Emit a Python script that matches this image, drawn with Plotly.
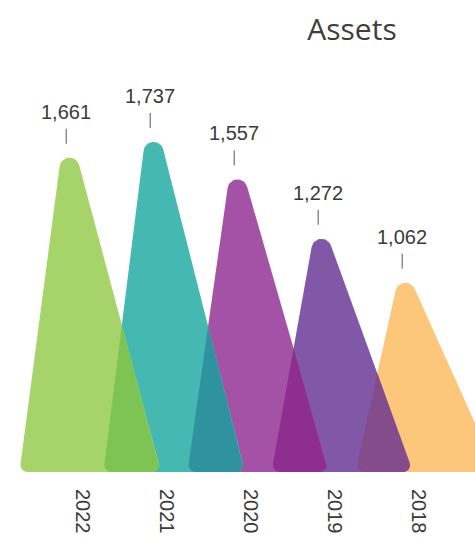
import numpy as np
import plotly.graph_objects as go

# ---- data ----
years = ["2022", "2021", "2020", "2019", "2018"]
assets = [1661, 1737, 1557, 1272, 1062]

# ---- style ----
fill_colors = ["#a6d36a", "#45b9b1", "#a452a5", "#8157a8", "#fcc77b"]
overlap_colors = ["#7ec455", "#2f939f", "#8e2f8f", "#844c8b", None]
TEXT_COLOR = "#3a3a3a"

W, H = 475, 540
M_BOTTOM = 68
PLOT_W, PLOT_H = W, H - M_BOTTOM
X_RANGE = [-0.988, 4.667]
Y_RANGE = [189.0, 2143.0]

# peak geometry, in category units relative to each year's slot
APEX_OFF = -0.2
BASE_L = -0.756
BASE_R = 0.93
R_TOP = 10.0    # px radius of rounded apex
R_BASE = 7.0    # px radius of rounded base corners


def to_px(x, y):
    px = (x - X_RANGE[0]) / (X_RANGE[1] - X_RANGE[0]) * PLOT_W
    py = PLOT_H - (y - Y_RANGE[0]) / (Y_RANGE[1] - Y_RANGE[0]) * PLOT_H
    return np.array([px, py])


def to_data(p):
    x = X_RANGE[0] + p[0] / PLOT_W * (X_RANGE[1] - X_RANGE[0])
    y = Y_RANGE[0] + (PLOT_H - p[1]) / PLOT_H * (Y_RANGE[1] - Y_RANGE[0])
    return x, y


def rounded_polygon(verts, radii, n=18):
    pts = []
    k = len(verts)
    for i in range(k):
        p, a, b = verts[i], verts[i - 1], verts[(i + 1) % k]
        u1 = (a - p) / np.linalg.norm(a - p)
        u2 = (b - p) / np.linalg.norm(b - p)
        theta = np.arccos(np.clip(u1 @ u2, -1, 1))
        r = radii[i]
        d = r / np.tan(theta / 2)
        t1, t2 = p + u1 * d, p + u2 * d
        bis = (u1 + u2) / np.linalg.norm(u1 + u2)
        c = p + bis * r / np.sin(theta / 2)
        a1 = np.arctan2(*(t1 - c)[::-1])
        a2 = np.arctan2(*(t2 - c)[::-1])
        da = (a2 - a1 + np.pi) % (2 * np.pi) - np.pi
        for t in np.linspace(0, 1, n):
            ang = a1 + da * t
            pts.append(c + r * np.array([np.cos(ang), np.sin(ang)]))
    return pts


def signed_area(poly):
    s = 0.0
    for i in range(len(poly)):
        x1, y1 = poly[i - 1]
        x2, y2 = poly[i]
        s += x1 * y2 - x2 * y1
    return s / 2


def clip_polygon(subject, clipper):
    sgn = 1.0 if signed_area(clipper) > 0 else -1.0

    def inside(p, a, b):
        return sgn * ((b[0] - a[0]) * (p[1] - a[1]) - (b[1] - a[1]) * (p[0] - a[0])) >= 0

    def cross_pt(p, q, a, b):
        d1 = q - p
        d2 = b - a
        den = d1[0] * d2[1] - d1[1] * d2[0]
        if abs(den) < 1e-12:
            return q
        t = ((a[0] - p[0]) * d2[1] - (a[1] - p[1]) * d2[0]) / den
        return p + t * d1

    out = list(subject)
    for i in range(len(clipper)):
        a, b = clipper[i], clipper[(i + 1) % len(clipper)]
        inp, out = out, []
        if not inp:
            break
        prev = inp[-1]
        for cur in inp:
            if inside(cur, a, b):
                if not inside(prev, a, b):
                    out.append(cross_pt(prev, cur, a, b))
                out.append(cur)
            elif inside(prev, a, b):
                out.append(cross_pt(prev, cur, a, b))
            prev = cur
    return out


# build each peak as a rounded triangle (computed in pixel space, stored in data units)
peaks = []
for i, v in enumerate(assets):
    apex = to_px(i + APEX_OFF, v)
    left = to_px(i + BASE_L, Y_RANGE[0])
    right = to_px(i + BASE_R, Y_RANGE[0])
    poly = rounded_polygon([left, apex, right], [R_BASE, R_TOP, R_BASE])
    peaks.append(poly)

fig = go.Figure()


def add_poly(poly, color):
    xs, ys = zip(*[to_data(p) for p in poly])
    fig.add_trace(go.Scatter(
        x=list(xs) + [xs[0]], y=list(ys) + [ys[0]],
        mode="lines", fill="toself", fillcolor=color,
        line=dict(width=0, color=color), hoverinfo="skip", showlegend=False,
    ))


# draw from the back (2018) to the front (2022); darker patch where a peak covers the one behind
for i in reversed(range(len(assets))):
    add_poly(peaks[i], fill_colors[i])
    if i + 1 < len(assets) and overlap_colors[i]:
        inter = clip_polygon(peaks[i], peaks[i + 1])
        if len(inter) > 2:
            add_poly(inter, overlap_colors[i])

# value labels with a small leader tick above each rounded peak
for i, v in enumerate(assets):
    top_px = min(p[1] for p in peaks[i])
    top_y = to_data(np.array([0.0, top_px]))[1]
    xa = i + APEX_OFF
    fig.add_shape(
        type="line", xref="x", yref="y", x0=xa, x1=xa,
        ysizemode="pixel", yanchor=top_y, y0=14, y1=29,
        line=dict(color="#555555", width=1),
    )
    fig.add_annotation(
        x=xa, y=top_y, xref="x", yref="y", yanchor="bottom", yshift=33,
        text=f"{v:,}", showarrow=False,
        font=dict(family="Liberation Sans", size=20, color=TEXT_COLOR),
    )

fig.update_layout(
    width=W, height=H,
    margin=dict(l=0, r=0, t=0, b=M_BOTTOM),
    paper_bgcolor="white", plot_bgcolor="white",
    title=dict(
        text="Assets", x=352 / W, xanchor="center", y=1 - 29 / H, yanchor="middle",
        yref="container",
        font=dict(family="Open Sans", size=30, color="#3d3d3d"),
    ),
    xaxis=dict(
        range=X_RANGE, showgrid=False, zeroline=False, showline=False, ticks="",
        tickmode="array", tickvals=list(range(len(years))), ticktext=years,
        tickangle=90, ticklabelstandoff=16,
        tickfont=dict(family="Liberation Sans", size=20, color=TEXT_COLOR),
        fixedrange=True,
    ),
    yaxis=dict(range=Y_RANGE, visible=False, fixedrange=True),
    showlegend=False,
)

fig.write_html("out.html")
